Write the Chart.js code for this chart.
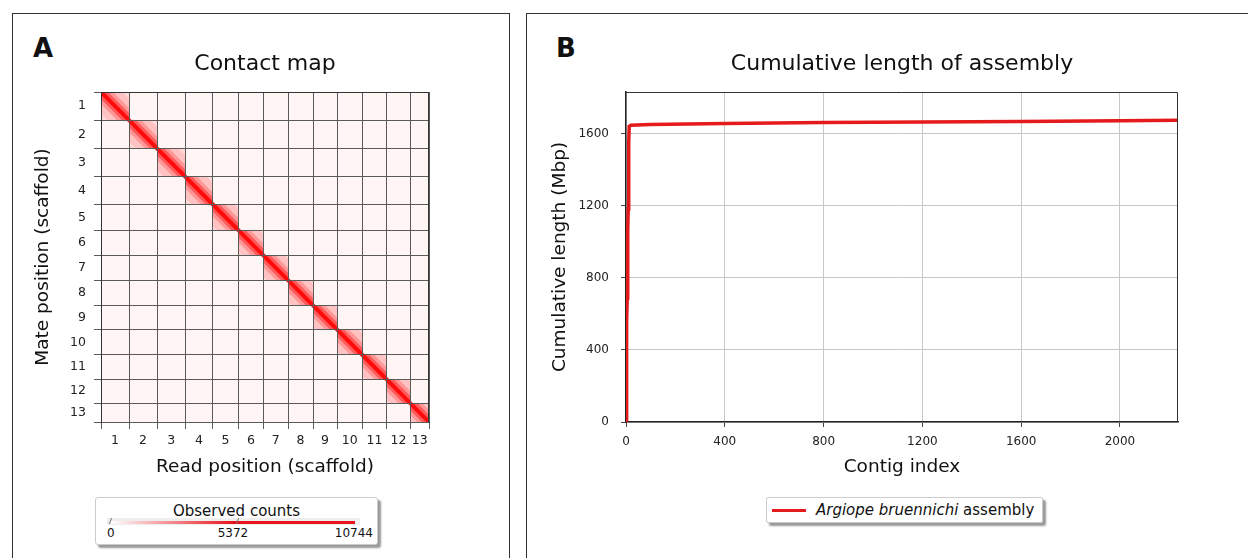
<!DOCTYPE html>
<html>
<head>
<meta charset="utf-8">
<script src="https://cdn.jsdelivr.net/npm/chart.js@4.4.1/dist/chart.umd.min.js"></script>
<style>
  body { margin: 0; width: 1248px; height: 558px; overflow: hidden; background: #fff; position: relative;
         font-family: "DejaVu Sans", Verdana, sans-serif; color: #111; }
  .panel { position: absolute; border: 1px solid #333; }
  #panelA { left: 12px; top: 13px; width: 496px; height: 600px; }
  #panelB { left: 526px; top: 13px; width: 800px; height: 600px; }
  .tag { position: absolute; font-weight: bold; font-size: 26px; line-height: 26px; }
  canvas { position: absolute; }
  #heat { left: 13px; top: 14px; }
  #cumul { left: 527px; top: 14px; }
  #colorbar { position: absolute; left: 95px; top: 497px; width: 281px; height: 46px; background: #fff;
              border: 1px solid #ccc; border-radius: 3px; box-shadow: 3px 3px 2px #999; }
  #colorbar .ttl { position: absolute; left: 0; right: 0; top: 4px; text-align: center; font-size: 15px; line-height: 18px; }
  #colorbar .track { position: absolute; left: 11px; top: 20px; width: 253px; height: 7px; background: #eee; }
  #colorbar .ramp { position: absolute; left: 15px; top: 23px; width: 244px; height: 3px;
                    background: linear-gradient(to right, #fff 0%, #e8141c 50%, #e8141c 100%); }
  #colorbar .mark { position: absolute; top: 20px; width: 1px; height: 6px; background: #777; transform: skewX(-20deg); }
  #colorbar .lbl { position: absolute; top: 28px; font-size: 12px; line-height: 14px; }
  #legendB { position: absolute; left: 766px; top: 497px; width: 275px; height: 24px; background: #fff;
             border: 1px solid #ccc; border-radius: 2px; box-shadow: 3px 3px 2px #999; }
  #legendB .swatch { position: absolute; left: 5px; top: 11px; width: 34px; height: 3px; background: #e41a1c; }
  #legendB .txt { position: absolute; left: 49px; top: 3px; font-size: 15px; line-height: 18px; white-space: nowrap; }
</style>
</head>
<body>
<div class="panel" id="panelA"></div>
<div class="panel" id="panelB"></div>
<div class="tag" style="left:33px;top:35px">A</div>
<div class="tag" style="left:556px;top:35px">B</div>
<canvas id="heat" width="495" height="476"></canvas>
<canvas id="cumul" width="721" height="476"></canvas>
<div id="colorbar">
  <div class="ttl">Observed counts</div>
  <div class="track"></div>
  <div class="ramp"></div>
</div>
<div id="legendB">
  <div class="swatch"></div>
  <div class="txt"><i>Argiope bruennichi</i> assembly</div>
</div>
<script>
// Panel A: scaffold lengths (Mbp)
const scaffoldNames = ["1", "2", "3", "4", "5", "6", "7", "8", "9", "10", "11", "12", "13"];
const scaffoldLengths = [140, 141, 140, 137, 130, 125, 122, 125, 121, 126, 120, 120, 93];
const colorbarTicks = [0, 5372, 10744];

// Panel B: cumulative length of assembly
const contigIndex = [0, 1, 2, 3, 4, 5, 6, 7, 8, 9, 10, 11, 12, 13, 20, 100, 400, 800, 1200, 1600, 2000, 2235];
const cumulativeMbp = [0, 140, 281, 421, 558, 688, 813, 935, 1060, 1181, 1307, 1427, 1547, 1640,
                       1646, 1650, 1656, 1661, 1664, 1667, 1670, 1673];
const xTicksB = [0, 400, 800, 1200, 1600, 2000];
const yTicksB = [0, 400, 800, 1200, 1600];

// scaffold boundaries + midpoints for the axes
let bounds = [0];
scaffoldLengths.forEach((l) => bounds.push(bounds[bounds.length - 1] + l));
const total = bounds[bounds.length - 1];
let heatTicks = [];
bounds.forEach((b, i) => {
  heatTicks.push(b);
  if (i < scaffoldLengths.length) heatTicks.push(b + scaffoldLengths[i] / 2);
});

// colour bar labels
const cb = document.getElementById("colorbar");
colorbarTicks.forEach((v, i) => {
  const frac = v / colorbarTicks[colorbarTicks.length - 1];
  const px = 11 + frac * 252;
  const lbl = document.createElement("div");
  lbl.className = "lbl";
  lbl.textContent = v;
  if (i === 0) lbl.style.left = "11px";
  else if (i === colorbarTicks.length - 1) lbl.style.right = "4px";
  else { lbl.style.left = px - 20 + "px"; lbl.style.width = "40px"; lbl.style.textAlign = "center"; }
  cb.appendChild(lbl);
  if (i < colorbarTicks.length - 1) {
    const m = document.createElement("div");
    m.className = "mark";
    m.style.left = (i === 0 ? 14 : px + 4) + "px";
    cb.appendChild(m);
  }
});

const frame = {
  id: "frame",
  afterDraw(chart) {
    const { ctx, chartArea: a } = chart;
    ctx.save();
    ctx.strokeStyle = "#333";
    ctx.lineWidth = 1;
    ctx.beginPath();
    ctx.moveTo(a.left, a.top + 0.5);
    ctx.lineTo(a.right - 0.5, a.top + 0.5);
    ctx.lineTo(a.right - 0.5, a.bottom);
    ctx.stroke();
    ctx.restore();
  }
};

// intra-scaffold blocks and diagonal band of the contact map
const contactBlocks = {
  id: "contactBlocks",
  beforeDatasetsDraw(chart) {
    const { ctx, chartArea: a, scales: { x, y } } = chart;
    ctx.save();
    ctx.fillStyle = "#fff5f5";
    ctx.fillRect(a.left, a.top, a.width, a.height);
    for (let i = 0; i < scaffoldLengths.length; i++) {
      const x0 = x.getPixelForValue(bounds[i]), x1 = x.getPixelForValue(bounds[i + 1]);
      const y0 = y.getPixelForValue(bounds[i]), y1 = y.getPixelForValue(bounds[i + 1]);
      ctx.save();
      ctx.beginPath();
      ctx.rect(x0, y0, x1 - x0, y1 - y0);
      ctx.clip();
      ctx.fillStyle = "rgba(255,40,40,0.14)";
      ctx.fillRect(x0, y0, x1 - x0, y1 - y0);
      [[30, 0.1], [17, 0.22], [10, 0.4]].forEach(([w, al]) => {
        ctx.strokeStyle = "rgba(255,0,0," + al + ")";
        ctx.lineWidth = w;
        ctx.beginPath();
        ctx.moveTo(x0, y0);
        ctx.lineTo(x1, y1);
        ctx.stroke();
      });
      ctx.restore();
    }
    ctx.restore();
  }
};

const heatGrid = {
  color: (c) => (c.index % 2 === 0 ? "#5a5a5a" : "rgba(0,0,0,0)"),
  lineWidth: 1,
  tickLength: 7,
  z: 1
};
const heatTickOpts = {
  autoSkip: false,
  maxRotation: 0,
  minRotation: 0,
  color: "#222",
  font: { family: "DejaVu Sans", size: 12.5 },
  callback: (v, i) => (i % 2 ? scaffoldNames[(i - 1) / 2] : "")
};

new Chart(document.getElementById("heat"), {
  type: "scatter",
  data: {
    datasets: [{
      data: bounds.map((b) => ({ x: b, y: b })),
      showLine: true,
      borderColor: "#ff0a0a",
      borderWidth: 4,
      pointRadius: 0
    }]
  },
  options: {
    responsive: false,
    animation: false,
    events: [],
    layout: { padding: { left: 0, right: 79, top: 0, bottom: 8 } },
    plugins: {
      legend: { display: false },
      tooltip: { enabled: false },
      title: {
        display: true,
        fullSize: false,
        text: "Contact map",
        color: "#111",
        font: { family: "DejaVu Sans", size: 22, weight: "normal" },
        padding: { top: 37, bottom: 14.6 }
      }
    },
    scales: {
      x: {
        type: "linear", min: 0, max: total,
        afterBuildTicks: (s) => { s.ticks = heatTicks.map((v) => ({ value: v })); },
        afterFit: (s) => { s.height = 60; },
        grid: heatGrid,
        border: { color: "#333", z: 1 },
        ticks: Object.assign({ padding: 4 }, heatTickOpts),
        title: { display: true, text: "Read position (scaffold)", color: "#111",
                 font: { family: "DejaVu Sans", size: 18.5 }, padding: { top: 0, bottom: 3.9 } }
      },
      y: {
        type: "linear", min: 0, max: total, reverse: true,
        afterBuildTicks: (s) => { s.ticks = heatTicks.map((v) => ({ value: v })); },
        afterFit: (s) => { s.width = 88; },
        grid: heatGrid,
        border: { color: "#333", z: 1 },
        ticks: Object.assign({ padding: 8 }, heatTickOpts),
        title: { display: true, text: "Mate position (scaffold)", color: "#111",
                 font: { family: "DejaVu Sans", size: 18.5 }, padding: { top: 18.9, bottom: 0 } }
      }
    }
  },
  plugins: [contactBlocks, frame]
});

new Chart(document.getElementById("cumul"), {
  type: "scatter",
  data: {
    datasets: [{
      label: "Argiope bruennichi assembly",
      data: contigIndex.map((c, i) => ({ x: c, y: cumulativeMbp[i] })),
      showLine: true,
      borderColor: "#e41a1c",
      borderWidth: 3.5,
      pointRadius: 0,
      tension: 0
    }]
  },
  options: {
    responsive: false,
    animation: false,
    events: [],
    layout: { padding: { left: 0, right: 70, top: 0, bottom: 8 } },
    plugins: {
      legend: { display: false },
      tooltip: { enabled: false },
      title: {
        display: true,
        fullSize: false,
        text: "Cumulative length of assembly",
        color: "#111",
        font: { family: "DejaVu Sans", size: 22, weight: "normal" },
        padding: { top: 37, bottom: 14.6 }
      }
    },
    scales: {
      x: {
        type: "linear", min: 0, max: 2235,
        afterBuildTicks: (s) => { s.ticks = xTicksB.map((v) => ({ value: v })); },
        afterFit: (s) => { s.height = 60; },
        grid: { color: "#c8c8c8", tickColor: "#444", tickLength: 5 },
        border: { color: "#222", width: 1.5 },
        ticks: { color: "#222", padding: 8, maxRotation: 0, font: { family: "DejaVu Sans", size: 12 },
                 callback: (v) => String(v) },
        title: { display: true, text: "Contig index", color: "#111",
                 font: { family: "DejaVu Sans", size: 18.5 }, padding: { top: 0, bottom: 3.9 } }
      },
      y: {
        type: "linear", min: 0, max: 1830,
        afterBuildTicks: (s) => { s.ticks = yTicksB.map((v) => ({ value: v })); },
        afterFit: (s) => { s.width = 99; },
        grid: { color: "#c8c8c8", tickColor: "#444", tickLength: 5 },
        border: { color: "#222", width: 1.5 },
        ticks: { color: "#222", padding: 12, font: { family: "DejaVu Sans", size: 12 },
                 callback: (v) => String(v) },
        title: { display: true, text: "Cumulative length (Mbp)", color: "#111",
                 font: { family: "DejaVu Sans", size: 18.5 }, padding: { top: 21.6, bottom: 0 } }
      }
    }
  },
  plugins: [frame]
});
</script>
</body>
</html>
